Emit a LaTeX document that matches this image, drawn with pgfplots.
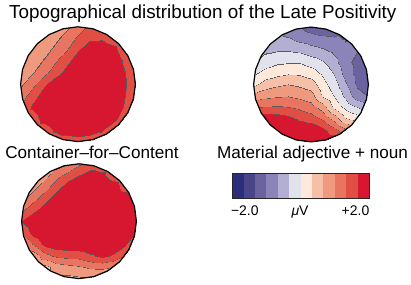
\documentclass[border=0pt]{standalone}
\usepackage{fontspec}
\setmainfont{Liberation Sans}
\usepackage{pgfplots}
\pgfplotsset{compat=1.18}
\usepackage{pgfplotstable}

\definecolor{c1}{RGB}{43,46,122}
\definecolor{c2}{RGB}{74,68,136}
\definecolor{c3}{RGB}{107,98,160}
\definecolor{c4}{RGB}{138,132,184}
\definecolor{c5}{RGB}{179,175,210}
\definecolor{c6}{RGB}{226,226,236}
\definecolor{c7}{RGB}{253,233,220}
\definecolor{c8}{RGB}{246,192,168}
\definecolor{c9}{RGB}{239,154,126}
\definecolor{c10}{RGB}{232,116,98}
\definecolor{c11}{RGB}{224,78,68}
\definecolor{c12}{RGB}{215,23,47}

% colormap: 12 bands, each split in 16 cells; first cell of bands 2..12 is a thin grey contour line
\def\gr{rgb255=(90,90,90) }
\def\rp#1{rgb255=(#1) }
\def\five#1{\rp{#1}\rp{#1}\rp{#1}\rp{#1}\rp{#1}}
\def\fifteen#1{\five{#1}\five{#1}\five{#1}}
\edef\topolist{\rp{43,46,122}\fifteen{43,46,122}%
\gr\fifteen{74,68,136}\gr\fifteen{107,98,160}\gr\fifteen{138,132,184}%
\gr\fifteen{179,175,210}\gr\fifteen{226,226,236}\gr\fifteen{253,233,220}%
\gr\fifteen{246,192,168}\gr\fifteen{239,154,126}\gr\fifteen{232,116,98}%
\gr\fifteen{224,78,68}\gr\fifteen{215,23,47}}
\pgfplotsset{colormap/.expanded={topo}{\topolist}}

\pgfplotsset{
  topomap/.style={hide axis, scale only axis, width=114.8bp, height=114.8bp,
    xmin=-1, xmax=1, ymin=-1, ymax=1, anchor=center,
    colormap name=topo, colormap access=piecewise constant,
    point meta min=-2, point meta max=2},
  outline/.style={hide axis, scale only axis, width=114.8bp, height=114.8bp,
    xmin=-1, xmax=1, ymin=-1, ymax=1, anchor=center, clip=false},
}

\pgfplotstableread[row sep=\\]{
x y z\\
-1 1 0.70\\ -0.8 1 0.70\\ -0.6 1 0.70\\ -0.4 1 0.80\\ -0.2 1 0.96\\ 0 1 1.19\\ 0.2 1 1.40\\ 0.4 1 1.40\\ 0.6 1 1.40\\ 0.8 1 1.40\\ 1 1 1.40\\
-1 0.8 0.70\\ -0.8 0.8 0.70\\ -0.6 0.8 0.77\\ -0.4 0.8 0.93\\ -0.2 0.8 1.14\\ 0 0.8 1.41\\ 0.2 0.8 1.60\\ 0.4 0.8 1.62\\ 0.6 0.8 1.45\\ 0.8 0.8 1.40\\ 1 0.8 1.40\\
-1 0.6 0.70\\ -0.8 0.6 0.74\\ -0.6 0.6 0.90\\ -0.4 0.6 1.09\\ -0.2 0.6 1.35\\ 0 0.6 1.66\\ 0.2 0.6 1.89\\ 0.4 0.6 2.13\\ 0.6 0.6 1.83\\ 0.8 0.6 1.45\\ 1 0.6 1.40\\
-1 0.4 0.71\\ -0.8 0.4 0.87\\ -0.6 0.4 1.04\\ -0.4 0.4 1.30\\ -0.2 0.4 1.60\\ 0 0.4 1.85\\ 0.2 0.4 2.08\\ 0.4 0.4 2.30\\ 0.6 0.4 2.15\\ 0.8 0.4 1.62\\ 1 0.4 1.40\\
-1 0.2 0.84\\ -0.8 0.2 0.99\\ -0.6 0.2 1.25\\ -0.4 0.2 1.54\\ -0.2 0.2 1.80\\ 0 0.2 2.03\\ 0.2 0.2 2.27\\ 0.4 0.2 2.30\\ 0.6 0.2 2.30\\ 0.8 0.2 1.70\\ 1 0.2 1.40\\
-1 0 0.96\\ -0.8 0 1.23\\ -0.6 0 1.62\\ -0.4 0 1.87\\ -0.2 0 2.11\\ 0 0 2.30\\ 0.2 0 2.30\\ 0.4 0 2.30\\ 0.6 0 2.30\\ 0.8 0 1.75\\ 1 0 1.40\\
-1 -0.2 1.17\\ -0.8 -0.2 1.53\\ -0.6 -0.2 1.83\\ -0.4 -0.2 2.06\\ -0.2 -0.2 2.29\\ 0 -0.2 2.30\\ 0.2 -0.2 2.30\\ 0.4 -0.2 2.30\\ 0.6 -0.2 2.30\\ 0.8 -0.2 1.70\\ 1 -0.2 1.40\\
-1 -0.4 1.40\\ -0.8 -0.4 1.72\\ -0.6 -0.4 2.02\\ -0.4 -0.4 2.25\\ -0.2 -0.4 2.30\\ 0 -0.4 2.30\\ 0.2 -0.4 2.30\\ 0.4 -0.4 2.30\\ 0.6 -0.4 2.15\\ 0.8 -0.4 1.65\\ 1 -0.4 1.40\\
-1 -0.6 1.40\\ -0.8 -0.6 1.45\\ -0.6 -0.6 1.83\\ -0.4 -0.6 2.15\\ -0.2 -0.6 2.30\\ 0 -0.6 2.30\\ 0.2 -0.6 2.30\\ 0.4 -0.6 2.15\\ 0.6 -0.6 1.83\\ 0.8 -0.6 1.45\\ 1 -0.6 1.40\\
-1 -0.8 1.40\\ -0.8 -0.8 1.40\\ -0.6 -0.8 1.45\\ -0.4 -0.8 1.72\\ -0.2 -0.8 1.89\\ 0 -0.8 1.95\\ 0.2 -0.8 1.89\\ 0.4 -0.8 1.72\\ 0.6 -0.8 1.45\\ 0.8 -0.8 1.40\\ 1 -0.8 1.40\\
-1 -1 1.40\\ -0.8 -1 1.40\\ -0.6 -1 1.40\\ -0.4 -1 1.40\\ -0.2 -1 1.40\\ 0 -1 1.45\\ 0.2 -1 1.40\\ 0.4 -1 1.40\\ 0.6 -1 1.40\\ 0.8 -1 1.40\\ 1 -1 1.40\\
}\mapA

\pgfplotstableread[row sep=\\]{
x y z\\
-1 1 -0.62\\ -0.8 1 -0.65\\ -0.6 1 -0.74\\ -0.4 1 -0.92\\ -0.2 1 -0.98\\ 0 1 -1.14\\ 0.2 1 -1.24\\ 0.4 1 -1.24\\ 0.6 1 -1.10\\ 0.8 1 -0.95\\ 1 1 -0.95\\
-1 0.8 -0.52\\ -0.8 0.8 -0.52\\ -0.6 0.8 -0.53\\ -0.4 0.8 -0.61\\ -0.2 0.8 -0.75\\ 0 0.8 -0.83\\ 0.2 0.8 -0.89\\ 0.4 0.8 -0.93\\ 0.6 0.8 -1.00\\ 0.8 0.8 -0.95\\ 1 0.8 -1.00\\
-1 0.6 -0.42\\ -0.8 0.6 -0.39\\ -0.6 0.6 -0.35\\ -0.4 0.6 -0.35\\ -0.2 0.6 -0.40\\ 0 0.6 -0.52\\ 0.2 0.6 -0.61\\ 0.4 0.6 -0.74\\ 0.6 0.6 -0.93\\ 0.8 0.6 -0.97\\ 1 0.6 -1.10\\
-1 0.4 -0.31\\ -0.8 0.4 -0.17\\ -0.6 0.4 -0.05\\ -0.4 0.4 -0.02\\ -0.2 0.4 -0.02\\ 0 0.4 -0.14\\ 0.2 0.4 -0.28\\ 0.4 0.4 -0.55\\ 0.6 0.4 -0.87\\ 0.8 0.4 -1.10\\ 1 0.4 -1.25\\
-1 0.2 -0.05\\ -0.8 0.2 0.14\\ -0.6 0.2 0.24\\ -0.4 0.2 0.30\\ -0.2 0.2 0.28\\ 0 0.2 0.18\\ 0.2 0.2 -0.04\\ 0.4 0.2 -0.35\\ 0.6 0.2 -0.78\\ 0.8 0.2 -1.12\\ 1 0.2 -1.25\\
-1 0 0.25\\ -0.8 0 0.49\\ -0.6 0 0.60\\ -0.4 0 0.67\\ -0.2 0 0.60\\ 0 0 0.50\\ 0.2 0 0.15\\ 0.4 0 -0.18\\ 0.6 0 -0.60\\ 0.8 0 -1.05\\ 1 0 -1.20\\
-1 -0.2 0.81\\ -0.8 -0.2 0.91\\ -0.6 -0.2 0.97\\ -0.4 -0.2 1.00\\ -0.2 -0.2 0.92\\ 0 -0.2 0.82\\ 0.2 -0.2 0.33\\ 0.4 -0.2 0.00\\ 0.6 -0.2 -0.39\\ 0.8 -0.2 -0.85\\ 1 -0.2 -1.00\\
-1 -0.4 1.33\\ -0.8 -0.4 1.36\\ -0.6 -0.4 1.38\\ -0.4 -0.4 1.35\\ -0.2 -0.4 1.26\\ 0 -0.4 1.15\\ 0.2 -0.4 0.87\\ 0.4 -0.4 0.27\\ 0.6 -0.4 -0.08\\ 0.8 -0.4 -0.33\\ 1 -0.4 -0.55\\
-1 -0.6 2.00\\ -0.8 -0.6 1.94\\ -0.6 -0.6 1.88\\ -0.4 -0.6 1.79\\ -0.2 -0.6 1.63\\ 0 -0.6 1.52\\ 0.2 -0.6 1.33\\ 0.4 -0.6 0.91\\ 0.6 -0.6 0.40\\ 0.8 -0.6 0.22\\ 1 -0.6 0.00\\
-1 -0.8 2.20\\ -0.8 -0.8 2.15\\ -0.6 -0.8 2.10\\ -0.4 -0.8 2.05\\ -0.2 -0.8 2.03\\ 0 -0.8 2.00\\ 0.2 -0.8 1.79\\ 0.4 -0.8 1.47\\ 0.6 -0.8 1.10\\ 0.8 -0.8 0.78\\ 1 -0.8 0.50\\
-1 -1 2.30\\ -0.8 -1 2.30\\ -0.6 -1 2.30\\ -0.4 -1 2.25\\ -0.2 -1 2.30\\ 0 -1 2.25\\ 0.2 -1 2.20\\ 0.4 -1 1.97\\ 0.6 -1 1.67\\ 0.8 -1 1.20\\ 1 -1 0.90\\
}\mapB

\pgfplotstableread[row sep=\\]{
x y z\\
-1 1 0.80\\ -0.8 1 0.80\\ -0.6 1 0.80\\ -0.4 1 0.85\\ -0.2 1 1.00\\ 0 1 1.30\\ 0.2 1 1.45\\ 0.4 1 1.45\\ 0.6 1 1.45\\ 0.8 1 1.45\\ 1 1 1.50\\
-1 0.8 0.80\\ -0.8 0.8 0.80\\ -0.6 0.8 0.88\\ -0.4 0.8 1.22\\ -0.2 0.8 1.48\\ 0 0.8 1.67\\ 0.2 0.8 1.85\\ 0.4 0.8 1.75\\ 0.6 0.8 1.50\\ 0.8 0.8 1.45\\ 1 0.8 1.45\\
-1 0.6 0.80\\ -0.8 0.6 0.90\\ -0.6 0.6 1.22\\ -0.4 0.6 1.53\\ -0.2 0.6 1.87\\ 0 0.6 2.10\\ 0.2 0.6 2.20\\ 0.4 0.6 2.20\\ 0.6 0.6 1.85\\ 0.8 0.6 1.50\\ 1 0.6 1.45\\
-1 0.4 0.90\\ -0.8 0.4 1.22\\ -0.6 0.4 1.53\\ -0.4 0.4 1.85\\ -0.2 0.4 2.10\\ 0 0.4 2.20\\ 0.2 0.4 2.20\\ 0.4 0.4 2.20\\ 0.6 0.4 2.20\\ 0.8 0.4 1.90\\ 1 0.4 1.60\\
-1 0.2 1.30\\ -0.8 0.2 1.56\\ -0.6 0.2 1.89\\ -0.4 0.2 2.10\\ -0.2 0.2 2.20\\ 0 0.2 2.20\\ 0.2 0.2 2.20\\ 0.4 0.2 2.20\\ 0.6 0.2 2.20\\ 0.8 0.2 2.00\\ 1 0.2 1.65\\
-1 0 1.70\\ -0.8 0 2.00\\ -0.6 0 2.15\\ -0.4 0 2.20\\ -0.2 0 2.20\\ 0 0 2.20\\ 0.2 0 2.20\\ 0.4 0 2.20\\ 0.6 0 2.20\\ 0.8 0 2.05\\ 1 0 1.75\\
-1 -0.2 1.37\\ -0.8 -0.2 1.81\\ -0.6 -0.2 2.10\\ -0.4 -0.2 2.20\\ -0.2 -0.2 2.20\\ 0 -0.2 2.20\\ 0.2 -0.2 2.20\\ 0.4 -0.2 2.20\\ 0.6 -0.2 2.20\\ 0.8 -0.2 2.00\\ 1 -0.2 1.67\\
-1 -0.4 0.89\\ -0.8 -0.4 1.38\\ -0.6 -0.4 1.79\\ -0.4 -0.4 1.91\\ -0.2 -0.4 1.93\\ 0 -0.4 1.93\\ 0.2 -0.4 2.03\\ 0.4 -0.4 2.15\\ 0.6 -0.4 2.10\\ 0.8 -0.4 1.75\\ 1 -0.4 1.22\\
-1 -0.6 0.60\\ -0.8 -0.6 0.76\\ -0.6 -0.6 1.22\\ -0.4 -0.6 1.40\\ -0.2 -0.6 1.46\\ 0 -0.6 1.47\\ 0.2 -0.6 1.61\\ 0.4 -0.6 1.75\\ 0.6 -0.6 1.62\\ 0.8 -0.6 1.28\\ 1 -0.6 0.95\\
-1 -0.8 0.55\\ -0.8 -0.8 0.55\\ -0.6 -0.8 0.55\\ -0.4 -0.8 0.82\\ -0.2 -0.8 0.90\\ 0 -0.8 0.97\\ 0.2 -0.8 1.06\\ 0.4 -0.8 1.10\\ 0.6 -0.8 1.00\\ 0.8 -0.8 0.90\\ 1 -0.8 0.80\\
-1 -1 0.50\\ -0.8 -1 0.50\\ -0.6 -1 0.50\\ -0.4 -1 0.55\\ -0.2 -1 0.56\\ 0 -1 0.60\\ 0.2 -1 0.60\\ 0.4 -1 0.60\\ 0.6 -1 0.70\\ 0.8 -1 0.70\\ 1 -1 0.70\\
}\mapC

\newcommand{\circclip}{\clip (axis cs:1,0) -- (axis cs:0.966,0.259) -- (axis cs:0.866,0.5) -- (axis cs:0.707,0.707) -- (axis cs:0.5,0.866) -- (axis cs:0.259,0.966) -- (axis cs:0,1) -- (axis cs:-0.259,0.966) -- (axis cs:-0.5,0.866) -- (axis cs:-0.707,0.707) -- (axis cs:-0.866,0.5) -- (axis cs:-0.966,0.259) -- (axis cs:-1,0) -- (axis cs:-0.966,-0.259) -- (axis cs:-0.866,-0.5) -- (axis cs:-0.707,-0.707) -- (axis cs:-0.5,-0.866) -- (axis cs:-0.259,-0.966) -- (axis cs:0,-1) -- (axis cs:0.259,-0.966) -- (axis cs:0.5,-0.866) -- (axis cs:0.707,-0.707) -- (axis cs:0.866,-0.5) -- (axis cs:0.966,-0.259) -- cycle;}
\newcommand{\circline}{\addplot[black, line width=1.2pt] coordinates {(1,0) (0.966,0.259) (0.866,0.5) (0.707,0.707) (0.5,0.866) (0.259,0.966) (0,1) (-0.259,0.966) (-0.5,0.866) (-0.707,0.707) (-0.866,0.5) (-0.966,0.259) (-1,0) (-0.966,-0.259) (-0.866,-0.5) (-0.707,-0.707) (-0.5,-0.866) (-0.259,-0.966) (0,-1) (0.259,-0.966) (0.5,-0.866) (0.707,-0.707) (0.866,-0.5) (0.966,-0.259)} -- cycle;}

\begin{document}
\begin{tikzpicture}
\path[use as bounding box] (0,0) rectangle (411bp,285bp);

% map 1
\begin{axis}[topomap, at={(78bp,200.8bp)}]
\circclip
\addplot[surf, shader=interp, mesh/cols=11, point meta=explicit] table[x=x, y=y, meta=z] {\mapA};
\end{axis}
\begin{axis}[outline, at={(78bp,200.8bp)}]
\circline
\end{axis}

% map 2
\begin{axis}[topomap, at={(311bp,200.5bp)}]
\circclip
\addplot[surf, shader=interp, mesh/cols=11, point meta=explicit] table[x=x, y=y, meta=z] {\mapB};
\end{axis}
\begin{axis}[outline, at={(311bp,200.5bp)}]
\circline
\end{axis}

% map 3
\begin{axis}[topomap, at={(79bp,63.8bp)}]
\circclip
\addplot[surf, shader=interp, mesh/cols=11, point meta=explicit] table[x=x, y=y, meta=z] {\mapC};
\end{axis}
\begin{axis}[outline, at={(79bp,63.8bp)}]
\circline
\end{axis}

% colour bar
\begin{axis}[scale only axis, width=136.7bp, height=25bp, at={(232.3bp,86.7bp)}, anchor=south west,
  xmin=0, xmax=12, ymin=0, ymax=1, xtick=\empty, ytick=\empty, axis on top,
  axis line style={line width=1pt, black!85}]
\addplot[fill=c1, draw=none] coordinates {(0,1) (1,1)} \closedcycle;
\addplot[fill=c2, draw=none] coordinates {(1,1) (2,1)} \closedcycle;
\addplot[fill=c3, draw=none] coordinates {(2,1) (3,1)} \closedcycle;
\addplot[fill=c4, draw=none] coordinates {(3,1) (4,1)} \closedcycle;
\addplot[fill=c5, draw=none] coordinates {(4,1) (5,1)} \closedcycle;
\addplot[fill=c6, draw=none] coordinates {(5,1) (6,1)} \closedcycle;
\addplot[fill=c7, draw=none] coordinates {(6,1) (7,1)} \closedcycle;
\addplot[fill=c8, draw=none] coordinates {(7,1) (8,1)} \closedcycle;
\addplot[fill=c9, draw=none] coordinates {(8,1) (9,1)} \closedcycle;
\addplot[fill=c10, draw=none] coordinates {(9,1) (10,1)} \closedcycle;
\addplot[fill=c11, draw=none] coordinates {(10,1) (11,1)} \closedcycle;
\addplot[fill=c12, draw=none] coordinates {(11,1) (12,1)} \closedcycle;
\end{axis}

\node[anchor=base, font=\fontsize{18.9}{20}\selectfont] at (202.8bp,266bp) {Topographical distribution of the Late Positivity};
\node[anchor=base, font=\fontsize{17.2}{19}\selectfont] at (92bp,126.7bp) {Container\textendash for\textendash Content};
\node[anchor=base, font=\fontsize{17.2}{19}\selectfont] at (312.5bp,126.7bp) {Material adjective + noun};
\node[anchor=base, font=\fontsize{14}{16}\selectfont] at (244.8bp,69.3bp) {\textminus 2.0};
\node[anchor=base, font=\fontsize{14}{16}\selectfont] at (300bp,69.3bp) {\textit{μ}V};
\node[anchor=base, font=\fontsize{14}{16}\selectfont] at (355.5bp,69.3bp) {+2.0};
\end{tikzpicture}
\end{document}
